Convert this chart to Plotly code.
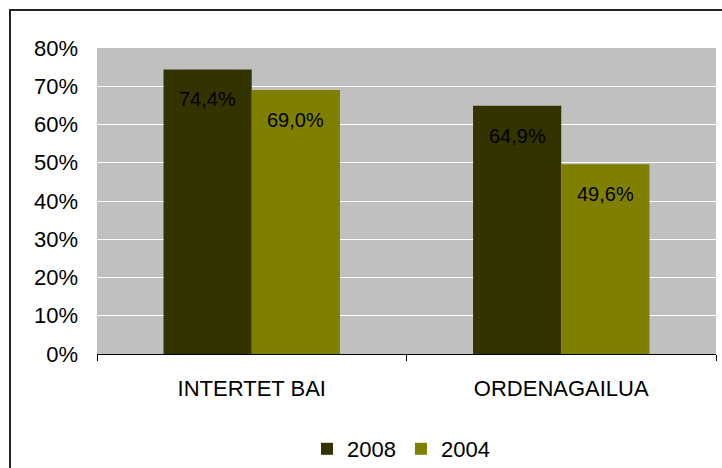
import plotly.graph_objects as go

categories = ["INTERTET BAI", "ORDENAGAILUA"]
series_names = ["2008", "2004"]
values_2008 = [0.744, 0.649]
values_2004 = [0.690, 0.496]
labels_2008 = ["74,4%", "64,9%"]
labels_2004 = ["69,0%", "49,6%"]
tick_vals = [0, 0.1, 0.2, 0.3, 0.4, 0.5, 0.6, 0.7, 0.8]
tick_text = ["0%", "10%", "20%", "30%", "40%", "50%", "60%", "70%", "80%"]

colors = ["#333300", "#808000"]
FONT = "Liberation Sans, Arial, sans-serif"

fig = go.Figure()
fig.add_trace(go.Bar(x=categories, y=values_2008, name=series_names[0],
                     marker=dict(color=colors[0], line=dict(width=0))))
fig.add_trace(go.Bar(x=categories, y=values_2004, name=series_names[1],
                     marker=dict(color=colors[1], line=dict(width=0))))

W, H = 722, 468
L, R, T, B = 97, 6, 48, 114
pw = W - L - R
ph = H - T - B
bar_px = pw / 2 * (1 - 0.43) / 2

annotations = []
for i, c in enumerate(categories):
    annotations.append(dict(x=c, y=values_2008[i], text=labels_2008[i], showarrow=False,
                            xshift=-bar_px / 2, yshift=-30, font=dict(size=20, color="#000000", family=FONT)))
    annotations.append(dict(x=c, y=values_2004[i], text=labels_2004[i], showarrow=False,
                            xshift=bar_px / 2, yshift=-30, font=dict(size=20, color="#000000", family=FONT)))

def px_to_paper_x(p):
    return (p - L) / pw

def px_to_paper_y(p):
    return (H - B - p) / ph

fig.update_layout(
    width=W, height=H,
    margin=dict(l=L, r=R, t=T, b=B, autoexpand=False),
    paper_bgcolor="white",
    plot_bgcolor="#c0c0c0",
    barmode="group",
    bargap=0.43,
    bargroupgap=0,
    font=dict(family=FONT, size=21, color="#000000"),
    showlegend=True,
    legend=dict(orientation="h", x=px_to_paper_x(401), xanchor="center", y=px_to_paper_y(449), yanchor="middle",
                font=dict(size=22), itemwidth=30, tracegroupgap=0),
    annotations=annotations,
    shapes=[dict(type="rect", xref="paper", yref="paper",
                 x0=px_to_paper_x(10), x1=px_to_paper_x(760),
                 y0=px_to_paper_y(520), y1=px_to_paper_y(10),
                 line=dict(color="#222222", width=2), fillcolor="rgba(0,0,0,0)", layer="above")],
)
fig.update_xaxes(showline=True, linecolor="#000000", linewidth=1, ticks="outside",
                 tickson="boundaries", ticklen=6, tickcolor="#000000", automargin=False,
                 tickfont=dict(size=22), showgrid=False, ticklabelstandoff=15)
fig.update_yaxes(range=[0, 0.8], tickvals=tick_vals, ticktext=tick_text, automargin=False,
                 showgrid=True, gridcolor="#ffffff", gridwidth=1, zeroline=False,
                 showline=False, ticks="", tickfont=dict(size=22), ticklabelstandoff=18)

fig.write_html("out.html", config={"displayModeBar": False},
               post_script="document.body.style.margin='0';document.body.style.overflow='hidden';")
